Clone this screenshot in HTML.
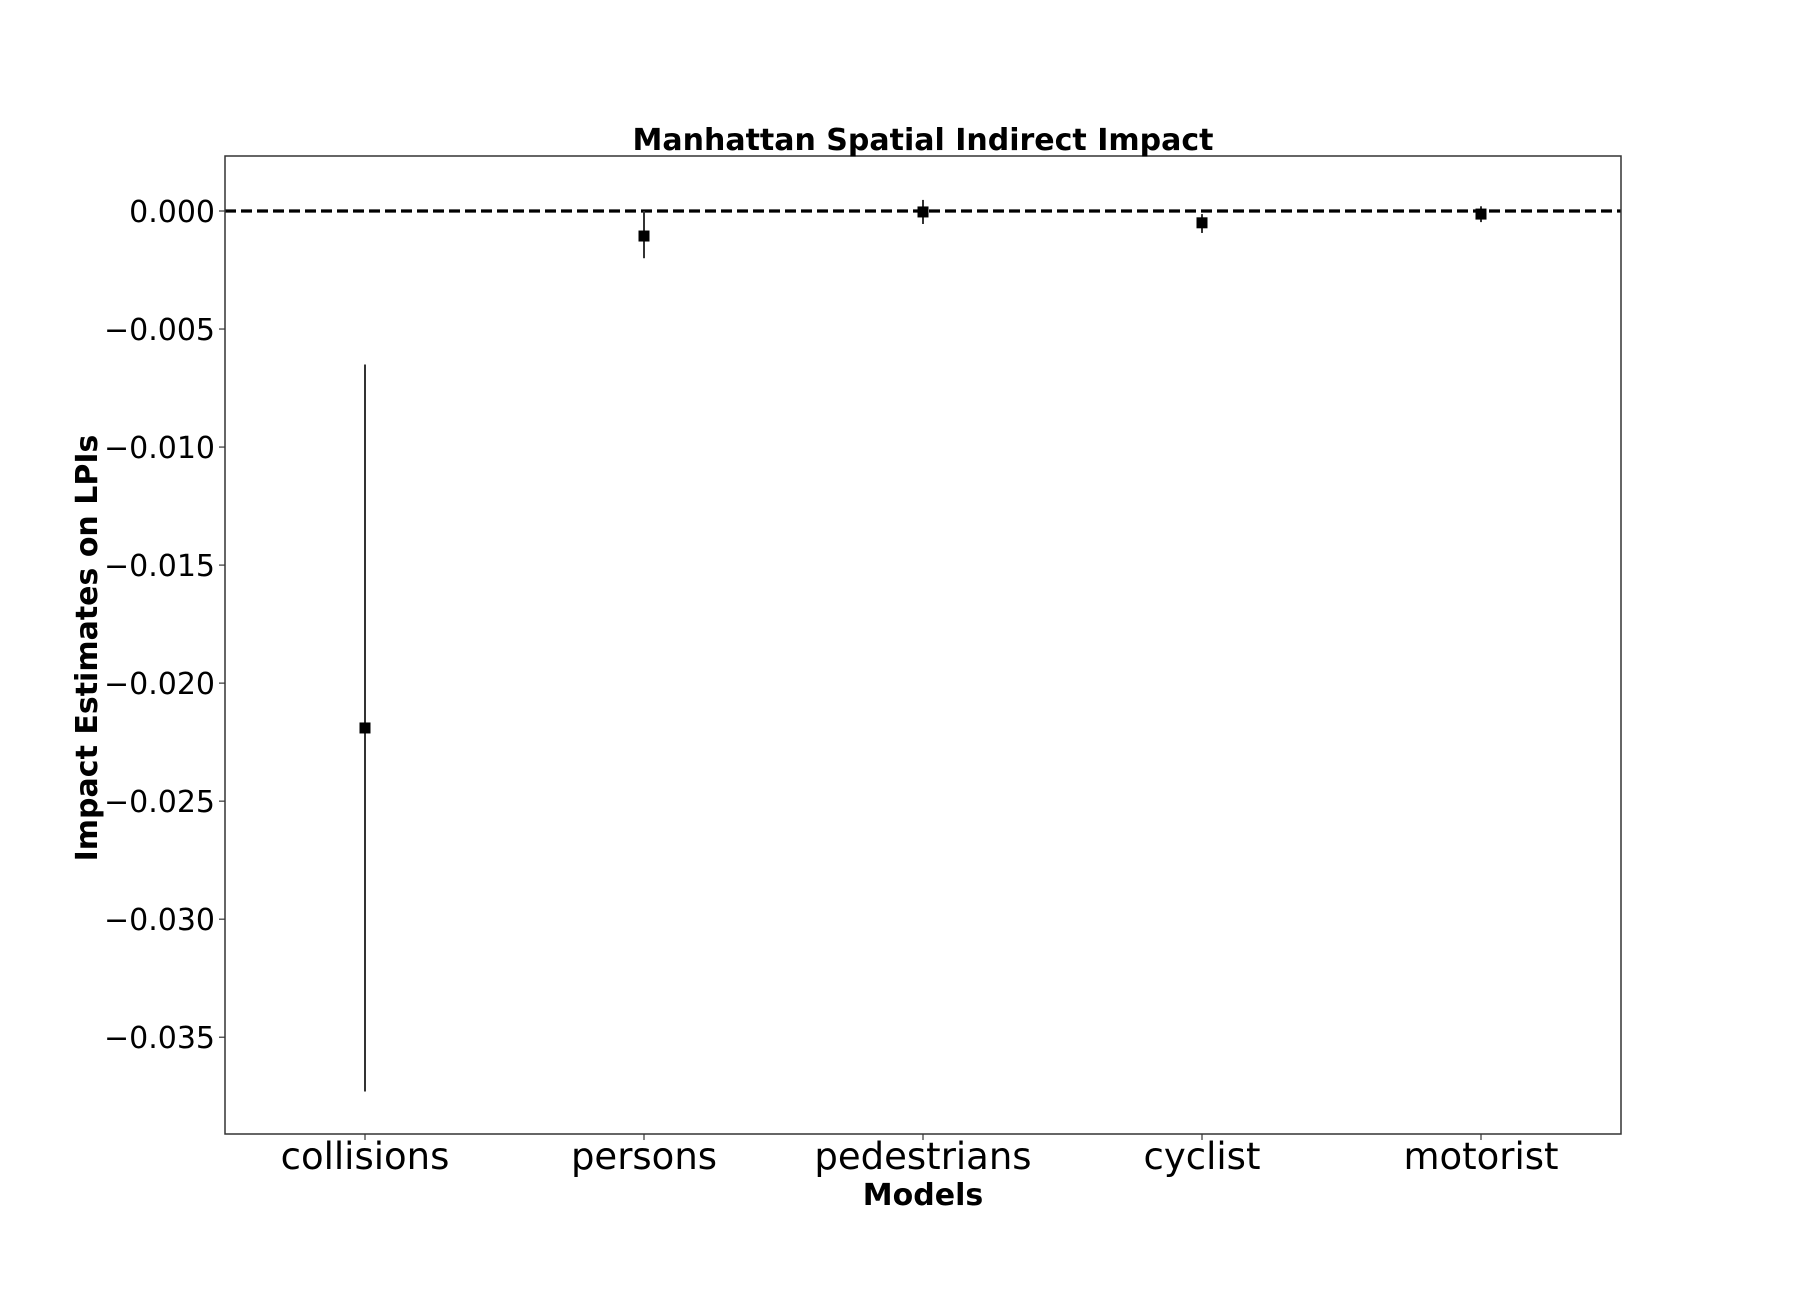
<!DOCTYPE html>
<html><head><meta charset="utf-8"><style>html,body{margin:0;padding:0;background:#fff}svg{display:block}text{font-family:"DejaVu Sans","Liberation Sans",sans-serif;fill:#000}</style></head>
<body>
<svg id="chart" width="1800" height="1296" viewBox="0 0 1800 1296" xmlns="http://www.w3.org/2000/svg">
<rect x="0" y="0" width="1800" height="1296" fill="#fff"/>
<g id="plot"></g>
</svg>
<script>
const categories = ["collisions","persons","pedestrians","cyclist","motorist"];
const estimates = [-0.0219, -0.00106, -0.00004, -0.0005, -0.00013];
const ciLow = [-0.0373, -0.0020, -0.00055, -0.00093, -0.00047];
const ciHigh = [-0.0065, 0.0, 0.00047, -0.00013, 0.0002];
const yTicks = [0, -0.005, -0.010, -0.015, -0.020, -0.025, -0.030, -0.035];
const yTickLabels = ["0.000","\u22120.005","\u22120.010","\u22120.015","\u22120.020","\u22120.025","\u22120.030","\u22120.035"];

const L=225, R=1621, T=156, B=1134;
const yMax=0.00233, yMin=-0.0391;
function y(v){return T+(yMax-v)/(yMax-yMin)*(B-T);}
function x(i){return 365+i*279;}
const NS="http://www.w3.org/2000/svg";
const g=document.getElementById('plot');
function mk(tag,attrs,txt){const e=document.createElementNS(NS,tag);for(const k in attrs)e.setAttribute(k,attrs[k]);if(txt!==undefined)e.textContent=txt;g.appendChild(e);return e;}

let zl=mk('line',{x1:L,x2:R,y1:y(0),y2:y(0),stroke:'#000','stroke-width':3.3,'stroke-dasharray':'11,5'});



yTicks.forEach((v,i)=>{
  let t=mk('line',{x1:L-6,x2:L,y1:y(v),y2:y(v),stroke:'#333','stroke-width':1.2});
  
  
  let lb=mk('text',{x:L-10,y:y(v)+11,'text-anchor':'end','font-size':30},yTickLabels[i]);
  
  
});
categories.forEach((c,i)=>{
  let t=mk('line',{x1:x(i),x2:x(i),y1:B,y2:B+6,stroke:'#333','stroke-width':1.2});
  
  
  let lb=mk('text',{x:x(i),y:1169,'text-anchor':'middle','font-size':37},c);
  
  
});
categories.forEach((c,i)=>{
  let e=mk('line',{x1:x(i),x2:x(i),y1:y(ciHigh[i]),y2:y(ciLow[i]),stroke:'#333','stroke-width':2});
  
  
  let m=mk('rect',{x:x(i)-5.5,y:y(estimates[i])-5.5,width:11,height:11,fill:'#000'});
  
  
});
let fr=mk('rect',{x:L,y:T,width:R-L,height:B-T,fill:'none',stroke:'#333','stroke-width':1.5});


let ti=mk('text',{x:(L+R)/2,y:150,'text-anchor':'middle','font-size':30,'font-weight':'bold'},'Manhattan Spatial Indirect Impact');


let xl=mk('text',{x:(L+R)/2,y:1205,'text-anchor':'middle','font-size':30,'font-weight':'bold'},'Models');


let yl=mk('text',{x:0,y:0,'text-anchor':'middle','font-size':30,'font-weight':'bold',transform:'translate(97,648) rotate(-90)'},'Impact Estimates on LPIs');


</script>
</body></html>
